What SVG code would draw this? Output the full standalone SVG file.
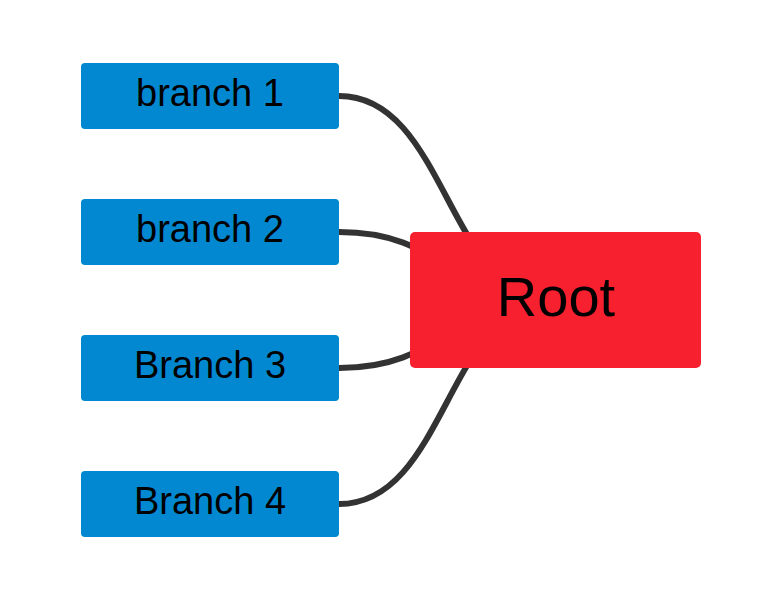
<svg xmlns="http://www.w3.org/2000/svg" width="782" height="610" viewBox="0 0 782 610">
<style>
.edge{fill:none;stroke:#333333;stroke-width:6}
.branch rect{fill:#0288d1}
.branch text{font-family:"Liberation Sans",Arial,sans-serif;font-size:38px;fill:#000;text-anchor:middle}
.root rect{fill:#f7202f}
.root text{font-family:"Liberation Sans",Arial,sans-serif;font-size:56px;fill:#000;text-anchor:middle}
</style>
<rect width="782" height="610" fill="#ffffff"/>
<g id="connectors">
<path class="edge" d="M339,96 C447,96 447,300 555,300"/>
<path class="edge" d="M339,232 C447,232 447,300 555,300"/>
<path class="edge" d="M339,368 C447,368 447,300 555,300"/>
<path class="edge" d="M339,504 C447,504 447,300 555,300"/>
</g>
<g id="branch1" class="branch"><rect x="81" y="63" width="258" height="66" rx="4"/><text x="210" y="106">branch 1</text></g>
<g id="branch2" class="branch"><rect x="81" y="199" width="258" height="66" rx="4"/><text x="210" y="242">branch 2</text></g>
<g id="branch3" class="branch"><rect x="81" y="335" width="258" height="66" rx="4"/><text x="210" y="378">Branch 3</text></g>
<g id="branch4" class="branch"><rect x="81" y="471" width="258" height="66" rx="4"/><text x="210" y="514">Branch 4</text></g>
<g id="root" class="root"><rect x="410" y="232" width="291" height="136" rx="5"/><text x="556" y="316">Root</text></g>
</svg>
